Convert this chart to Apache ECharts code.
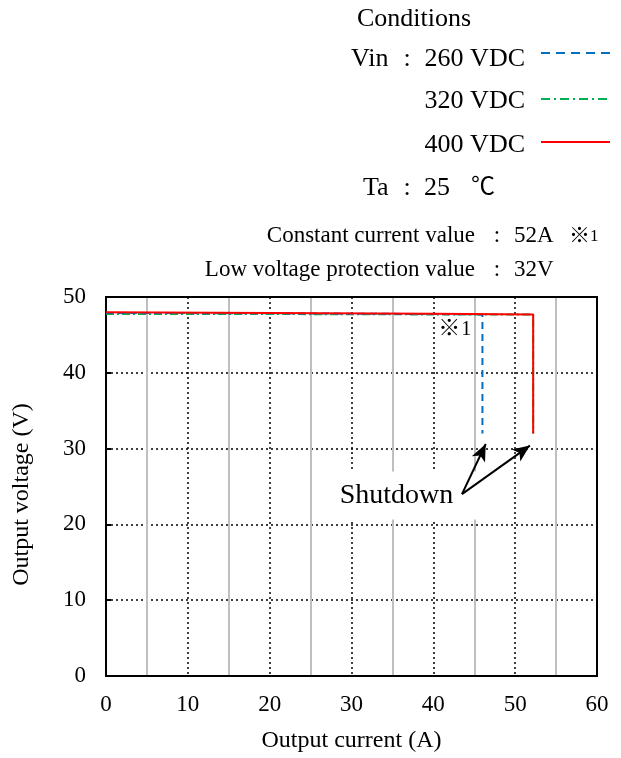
<!DOCTYPE html>
<html>
<head>
<meta charset="utf-8">
<script src="https://cdn.jsdelivr.net/npm/echarts@6/dist/echarts.min.js"></script>
<style>
  html, body { margin: 0; padding: 0; background: #fff; }
  #chart { width: 621px; height: 758px; }
</style>
</head>
<body>
<div id="chart"></div>
<script>
// Output voltage vs. output current for three input voltages
const vin260 = [[0, 47.9], [20, 47.85], [40, 47.75], [46, 47.7], [46, 32]];
const vin320 = [[0, 47.75], [20, 47.75], [40, 47.7], [52.2, 47.7], [52.2, 32]];
const vin400 = [[0, 48.0], [20, 47.9], [40, 47.8], [52.2, 47.7], [52.2, 32]];

const seriesNames = ['260 VDC', '320 VDC', '400 VDC'];
const seriesColors = ['#0070C0', '#00B050', '#FF0000'];

// "Shutdown" callout: tail of both arrows and their tips (A, V)
const shutdownTail = [43.5, 24.0];
const shutdownTips = [[46.4, 30.6], [51.8, 30.4]];
const shutdownLabelPos = [35.5, 23.8];
const noteLabelPos = [42.8, 45.8];

const xTicks = { min: 0, max: 60, interval: 10 };
const yTicks = { min: 0, max: 50, interval: 10 };

const serif = '"Liberation Serif", "Times New Roman", "Noto Sans CJK JP", serif';
const tickSize = 23;
const nameSize = 24;
const condSize = 26;
const infoSize = 23;

const chart = echarts.init(document.getElementById('chart'), null, { renderer: 'canvas' });

const dotted = { color: '#000', type: [2, 3], width: 1.5 };

const option = {
  animation: false,
  backgroundColor: '#fff',
  grid: { left: 106, right: 24, top: 297, bottom: 82, show: true, borderColor: '#000', borderWidth: 2, backgroundColor: 'transparent', containLabel: false, z: 3 },
  xAxis: {
    type: 'value', min: xTicks.min, max: xTicks.max, interval: xTicks.interval,
    name: 'Output current (A)', nameLocation: 'middle', nameGap: 53,
    nameTextStyle: { fontFamily: serif, fontSize: nameSize, color: '#000' },
    axisLine: { lineStyle: { color: '#000', width: 2 } },
    axisTick: { show: false },
    axisLabel: { fontFamily: serif, fontSize: tickSize, color: '#000', margin: 17 },
    splitLine: { show: true, lineStyle: dotted },
    minorTick: { show: false, splitNumber: 2 },
    minorSplitLine: { show: true, lineStyle: { color: '#bfbfbf', width: 2 } }
  },
  yAxis: {
    type: 'value', min: yTicks.min, max: yTicks.max, interval: yTicks.interval,
    name: 'Output voltage (V)', nameLocation: 'middle', nameGap: 72,
    nameTextStyle: { fontFamily: serif, fontSize: nameSize, color: '#000', padding: [0, 16, 0, 0] },
    axisLine: { show: true, lineStyle: { color: '#000', width: 2 } },
    axisTick: { show: true, inside: true, length: 5, lineStyle: { color: '#000', width: 2 } },
    axisLabel: { fontFamily: serif, fontSize: tickSize, color: '#000', margin: 20 },
    splitLine: { show: true, lineStyle: dotted }
  },
  series: [
    {
      name: seriesNames[1], type: 'line', data: vin320, symbol: 'none', z: 3,
      lineStyle: { color: seriesColors[1], width: 2, type: [8, 3, 2, 3] }
    },
    {
      name: seriesNames[0], type: 'line', data: vin260, symbol: 'none', z: 4,
      lineStyle: { color: seriesColors[0], width: 2, type: [7, 5] }
    },
    {
      name: seriesNames[2], type: 'line', data: vin400, symbol: 'none', z: 5,
      lineStyle: { color: seriesColors[2], width: 2 },
      markLine: {
        silent: true, animation: false,
        symbol: ['none', 'arrow'], symbolSize: [11, 17],
        label: { show: false },
        lineStyle: { color: '#000', width: 2, type: 'solid' },
        emphasis: { disabled: true },
        data: shutdownTips.map(t => [{ coord: shutdownTail }, { coord: t }])
      }
    }
  ]
};

chart.setOption(option);

// Text blocks drawn as graphic elements
const txt = (x, y, text, align, size, extra) => ({
  type: 'text', x, y, z: 2,
  style: Object.assign({ text, fill: '#000', font: `${size || condSize}px ${serif}`, textAlign: align || 'left', textVerticalAlign: 'middle' }, extra || {})
});
const seg = (y, color, dash) => ({
  type: 'line', shape: { x1: 541, y1: y, x2: 610, y2: y },
  style: { stroke: color, lineWidth: 2, lineDash: dash }
});

const shutPx = chart.convertToPixel({ gridIndex: 0 }, shutdownLabelPos);
const notePx = chart.convertToPixel({ gridIndex: 0 }, noteLabelPos);

const graphics = [
  txt(414, 19, 'Conditions', 'center'),
  txt(351, 59, 'Vin'), txt(407, 59, ':', 'center'), txt(525, 59, seriesNames[0], 'right'),
  txt(525, 101, seriesNames[1], 'right'),
  txt(525, 145, seriesNames[2], 'right'),
  seg(53, seriesColors[0], [9, 6]),
  seg(99, seriesColors[1], [9, 4, 2, 4]),
  seg(142, seriesColors[2], null),
  txt(363, 188, 'Ta'), txt(407, 188, ':', 'center'), txt(424, 188, '25'), txt(471, 188, '℃', 'left', 24),
  txt(475, 236, 'Constant current value', 'right', infoSize), txt(497, 236, ':', 'center', infoSize), txt(514, 236, '52A', 'left', infoSize),
  txt(569, 236, '※', 'left', 21), txt(590, 237, '1', 'left', 17),
  txt(475, 270, 'Low voltage protection value', 'right', infoSize), txt(497, 270, ':', 'center', infoSize), txt(514, 270, '32V', 'left', infoSize),
  // annotations inside the plot
  txt(notePx[0] - 18, notePx[1], '※', 'left', 22), txt(notePx[0] + 5, notePx[1] + 1, '1', 'left', 20),
  txt(shutPx[0], shutPx[1], 'Shutdown', 'center', 28, { backgroundColor: '#fff', padding: [10, 24, 10, 24] })
];
chart.setOption({ graphic: graphics });
</script>
</body>
</html>
